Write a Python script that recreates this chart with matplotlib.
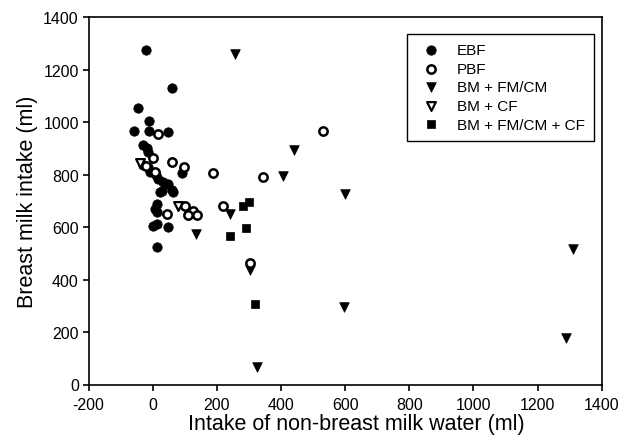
import numpy as np
import matplotlib
matplotlib.use("Agg")
import matplotlib.pyplot as plt

plt.rcParams['font.family'] = ['Liberation Sans', 'DejaVu Sans']
plt.rcParams['axes.unicode_minus'] = False

# exclusive breastfeeding
ebf_x = [-22, 61, -45, -10, -58, -10, 49, -29, -17, -14, -29, -14, -8, 10, 18, 33,
         49, 59, 28, 23, 90, 13, 7, 13, 2, 13, 49, 15, 62]
ebf_y = [1275, 1130, 1055, 1005, 965, 968, 962, 912, 903, 885, 838, 828, 809, 799, 784, 771,
         765, 743, 739, 733, 805, 688, 669, 657, 605, 612, 599, 523, 735]

# partial breastfeeding
pbf_x = [18, 0, -21, 7, 61, 99, 189, 345, 530, 44, 101, 127, 111, 137, 218, 303]
pbf_y = [955, 862, 834, 811, 847, 830, 805, 790, 968, 650, 680, 663, 647, 647, 680, 465]

# BM + FM/CM
fm_x = [257, 442, 405, 600, 241, 135, 305, 597, 325, 1311, 1290]
fm_y = [1260, 895, 795, 725, 650, 574, 437, 297, 66, 517, 177]

# BM + CF
cf_x = [-40, 80]
cf_y = [845, 682]

# BM + FM/CM + CF
fmcf_x = [283, 300, 291, 240, 318]
fmcf_y = [680, 695, 597, 568, 308]

x_ticks = list(range(-200, 1401, 200))
y_ticks = list(range(0, 1401, 200))

fig = plt.figure(figsize=(6.21, 4.39), dpi=100)
ax = fig.add_axes([88.5 / 621, 1 - 385.5 / 439, 513.2 / 621, 367.2 / 439])

ax.scatter(ebf_x, ebf_y, s=46, marker='o', c='black', edgecolors='black', linewidths=0.5, label='EBF', zorder=3)
ax.scatter(pbf_x, pbf_y, s=36, marker='o', facecolors='white', edgecolors='black', linewidths=1.8, label='PBF', zorder=4)
ax.scatter(fm_x, fm_y, s=48, marker='v', c='black', linewidths=0.5, label='BM + FM/CM', zorder=3)
ax.scatter(cf_x, cf_y, s=40, marker='v', facecolors='white', edgecolors='black', linewidths=1.6, label='BM + CF', zorder=4)
ax.scatter(fmcf_x, fmcf_y, s=38, marker='s', c='black', linewidths=0.5, label='BM + FM/CM + CF', zorder=3)

ax.set_xlim(-200, 1400)
ax.set_ylim(0, 1400)
ax.set_xticks(x_ticks)
ax.set_yticks(y_ticks)
ax.tick_params(direction='out', length=4, width=1.2, labelsize=11.5)
ax.tick_params(axis='x', pad=5)
ax.tick_params(axis='y', pad=3)
for sp in ax.spines.values():
    sp.set_linewidth(1.2)

ax.set_xlabel('Intake of non-breast milk water (ml)', fontsize=15.5, labelpad=0.5)
ax.xaxis.label.set_x(0.522)
ax.set_ylabel('Breast milk intake (ml)', fontsize=15.5, labelpad=4)

leg = ax.legend(loc='upper left', bbox_to_anchor=(0.62, 0.9545), fontsize=11, frameon=True,
                fancybox=False, edgecolor='black', framealpha=1, borderpad=0.6,
                labelspacing=0.3, handlelength=2.0, handletextpad=0.7, borderaxespad=0)
leg.get_frame().set_linewidth(1.0)

fig.savefig('out.png', dpi=100)
